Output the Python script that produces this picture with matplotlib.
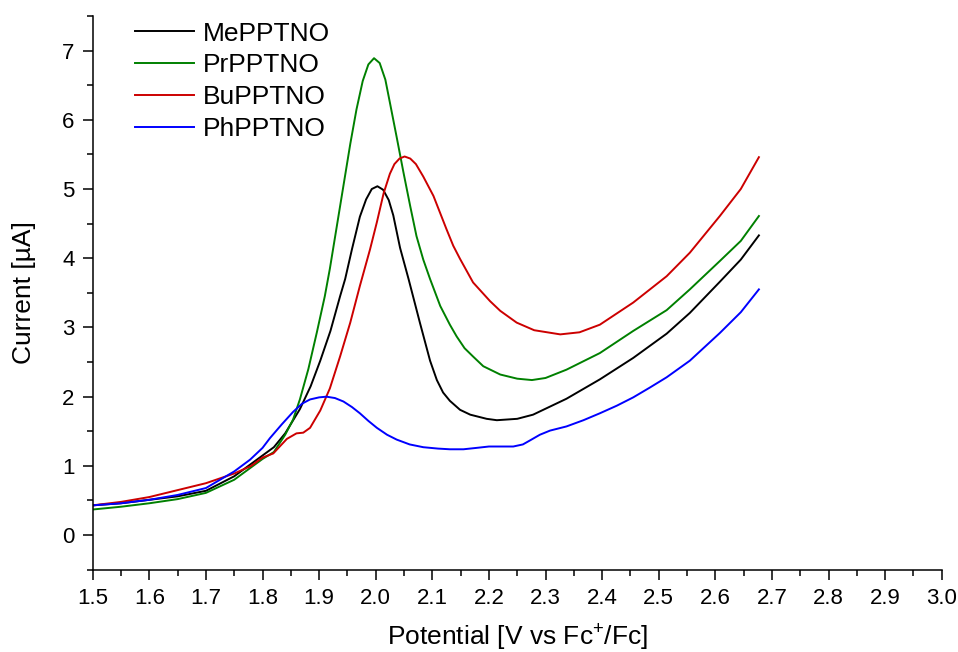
import matplotlib
matplotlib.use("Agg")
import matplotlib.pyplot as plt
from matplotlib.ticker import MultipleLocator, FormatStrFormatter

plt.rcParams["font.family"] = ["Liberation Sans", "DejaVu Sans"]
plt.rcParams["mathtext.fontset"] = "custom"
plt.rcParams["mathtext.rm"] = "Liberation Sans"
plt.rcParams["mathtext.it"] = "Liberation Sans:italic"

# Data (potential in V vs Fc+/Fc, current in uA)
me_x = [1.50, 1.55, 1.60, 1.65, 1.70, 1.75, 1.80, 1.82, 1.84, 1.866, 1.885, 1.902,
        1.92, 1.937, 1.946, 1.958, 1.972, 1.983, 1.993, 2.003, 2.013, 2.023, 2.031,
        2.043, 2.058, 2.078, 2.096, 2.108, 2.119, 2.131, 2.149, 2.167, 2.196, 2.214,
        2.25, 2.278, 2.337, 2.396, 2.455, 2.514, 2.555, 2.608, 2.645, 2.677]
me_y = [0.43, 0.46, 0.51, 0.56, 0.64, 0.85, 1.15, 1.27, 1.47, 1.82, 2.15, 2.52,
        2.95, 3.45, 3.70, 4.13, 4.60, 4.85, 5.00, 5.04, 4.99, 4.84, 4.62,
        4.15, 3.70, 3.07, 2.52, 2.24, 2.06, 1.94, 1.81, 1.74, 1.68, 1.66,
        1.68, 1.74, 1.97, 2.25, 2.56, 2.91, 3.21, 3.66, 3.98, 4.33]

pr_x = [1.50, 1.55, 1.60, 1.65, 1.70, 1.75, 1.80, 1.82, 1.84, 1.854, 1.866, 1.881,
        1.896, 1.91, 1.919, 1.93, 1.943, 1.955, 1.966, 1.977, 1.987, 1.997, 2.007,
        2.017, 2.025, 2.037, 2.049, 2.061, 2.072, 2.084, 2.096, 2.114, 2.131, 2.143,
        2.157, 2.172, 2.19, 2.22, 2.25, 2.276, 2.30, 2.337, 2.396, 2.455, 2.514,
        2.555, 2.608, 2.645, 2.677]
pr_y = [0.37, 0.41, 0.46, 0.52, 0.61, 0.80, 1.10, 1.20, 1.45, 1.67, 1.96, 2.40,
        2.93, 3.45, 3.85, 4.40, 5.05, 5.65, 6.15, 6.56, 6.80, 6.89, 6.82,
        6.58, 6.25, 5.75, 5.24, 4.75, 4.32, 3.98, 3.70, 3.31, 3.04, 2.87,
        2.70, 2.58, 2.44, 2.32, 2.26, 2.24, 2.27, 2.39, 2.63, 2.95, 3.25,
        3.55, 3.96, 4.25, 4.61]

bu_x = [1.50, 1.55, 1.60, 1.65, 1.70, 1.75, 1.78, 1.80, 1.819, 1.843, 1.86, 1.872,
        1.884, 1.902, 1.919, 1.937, 1.955, 1.972, 1.99, 2.002, 2.014, 2.025, 2.033,
        2.042, 2.051, 2.061, 2.071, 2.084, 2.102, 2.125, 2.137, 2.149, 2.172, 2.202,
        2.22, 2.249, 2.28, 2.326, 2.36, 2.396, 2.455, 2.514, 2.555, 2.608, 2.645,
        2.677]
bu_y = [0.43, 0.48, 0.55, 0.65, 0.75, 0.89, 1.00, 1.12, 1.18, 1.39, 1.47, 1.48,
        1.55, 1.80, 2.12, 2.58, 3.07, 3.60, 4.13, 4.52, 4.94, 5.22, 5.36,
        5.44, 5.47, 5.44, 5.36, 5.18, 4.90, 4.42, 4.18, 3.99, 3.65, 3.38,
        3.24, 3.07, 2.96, 2.90, 2.93, 3.04, 3.36, 3.74, 4.08, 4.61, 5.00,
        5.46]

ph_x = [1.50, 1.55, 1.60, 1.65, 1.70, 1.75, 1.778, 1.80, 1.813, 1.834, 1.854, 1.87,
        1.884, 1.90, 1.913, 1.928, 1.943, 1.958, 1.972, 1.987, 2.002, 2.02, 2.037,
        2.06, 2.084, 2.11, 2.131, 2.155, 2.178, 2.20, 2.22, 2.243, 2.26, 2.273,
        2.29, 2.308, 2.337, 2.367, 2.396, 2.426, 2.455, 2.484, 2.514, 2.555, 2.608,
        2.645, 2.677]
ph_y = [0.43, 0.46, 0.51, 0.58, 0.68, 0.92, 1.09, 1.26, 1.40, 1.60, 1.78, 1.90,
        1.96, 1.99, 2.00, 1.98, 1.93, 1.85, 1.76, 1.65, 1.55, 1.45, 1.38,
        1.31, 1.27, 1.25, 1.24, 1.24, 1.26, 1.28, 1.28, 1.28, 1.31, 1.37,
        1.45, 1.51, 1.57, 1.66, 1.76, 1.87, 1.99, 2.13, 2.28, 2.52, 2.92,
        3.22, 3.55]

fig = plt.figure(figsize=(9.58, 6.52), dpi=100)
ax = fig.add_axes([0.0968, 0.1262, 0.8862, 0.8493])

lw = 1.4
ax.plot(me_x, me_y, color="black", lw=lw, label="MePPTNO")
ax.plot(pr_x, pr_y, color="#008000", lw=lw, label="PrPPTNO")
ax.plot(bu_x, bu_y, color="#cc0000", lw=lw, label="BuPPTNO")
ax.plot(ph_x, ph_y, color="#0000ff", lw=lw, label="PhPPTNO")

ax.set_xlim(1.5, 3.0)
ax.set_ylim(-0.5, 7.5)
ax.xaxis.set_major_locator(MultipleLocator(0.1))
ax.xaxis.set_minor_locator(MultipleLocator(0.05))
ax.yaxis.set_major_locator(MultipleLocator(1))
ax.yaxis.set_minor_locator(MultipleLocator(0.5))
ax.xaxis.set_major_formatter(FormatStrFormatter("%.1f"))

for s in ["top", "right"]:
    ax.spines[s].set_visible(False)
for s in ["left", "bottom"]:
    ax.spines[s].set_linewidth(1.1)

ax.tick_params(which="major", direction="out", length=7, width=1.1,
               labelsize=16, pad=6)
ax.tick_params(which="minor", direction="out", length=4, width=1.1)

ax.set_xlabel(r"Potential [V vs Fc$^{+}$/Fc]", fontsize=19, labelpad=10)
ax.set_ylabel("Current [µA]", fontsize=19, labelpad=19)

ax.legend(loc="upper left", bbox_to_anchor=(0.05, 0.99), frameon=False,
          fontsize=19, handlelength=2.24, handletextpad=0.34, labelspacing=0.3,
          borderpad=0, borderaxespad=0)

fig.savefig("out.png", dpi=100)
